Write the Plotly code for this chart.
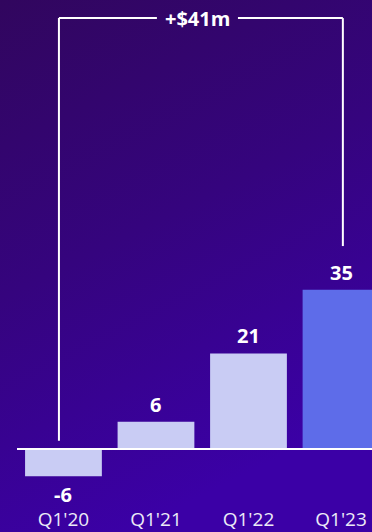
import base64
import plotly.graph_objects as go

categories = ["Q1'20", "Q1'21", "Q1'22", "Q1'23"]
values = [-6, 6, 21, 35]
value_labels = ["-6", "6", "21", "35"]
bar_colors = ["#c9ccf4", "#c9ccf4", "#c9ccf4", "#5e6ce9"]
change_label = "+$41m"

x_idx = list(range(len(categories)))

W, H, B = 372, 532, 26

svg = (
    '<svg xmlns="http://www.w3.org/2000/svg" width="372" height="532" preserveAspectRatio="none">'
    '<defs><linearGradient id="g" x1="0" y1="0" x2="0.35" y2="1">'
    '<stop offset="0" stop-color="#31065e"/>'
    '<stop offset="0.5" stop-color="#35047e"/>'
    '<stop offset="1" stop-color="#3b00a6"/>'
    '</linearGradient></defs>'
    '<rect width="372" height="532" fill="url(#g)"/></svg>'
)
bg_uri = "data:image/svg+xml;base64," + base64.b64encode(svg.encode()).decode()

fig = go.Figure()
fig.add_trace(go.Bar(
    x=x_idx, y=values, marker=dict(color=bar_colors, line=dict(width=0)),
    width=0.83, hoverinfo="skip", showlegend=False,
))

for xi, v, lab in zip(x_idx, values, value_labels):
    fig.add_annotation(
        x=xi, y=v, text=f"<b>{lab}</b>", showarrow=False,
        yanchor="bottom" if v >= 0 else "top",
        yshift=2 if v >= 0 else -3,
        font=dict(family="Open Sans", size=20, color="#ffffff"),
    )

# baseline
fig.add_shape(type="line", xref="paper", yref="y", x0=17 / W, x1=1, y0=0, y1=0,
              line=dict(color="#ffffff", width=2))

# bracket
top_y = 94.7
left_x = x_idx[0] - 0.049
right_x = x_idx[-1] + 0.02
gap_l, gap_r = 1.01, 1.886
fig.add_shape(type="line", x0=left_x, x1=left_x, y0=1.8, y1=top_y,
              line=dict(color="#ffffff", width=2))
fig.add_shape(type="line", x0=right_x, x1=right_x, y0=44.6, y1=top_y,
              line=dict(color="#ffffff", width=2))
fig.add_shape(type="line", x0=left_x, x1=gap_l, y0=top_y, y1=top_y,
              line=dict(color="#ffffff", width=2))
fig.add_shape(type="line", x0=gap_r, x1=right_x, y0=top_y, y1=top_y,
              line=dict(color="#ffffff", width=2))
fig.add_annotation(x=(gap_l + gap_r) / 2, y=top_y, text=f"<b>{change_label}</b>",
                   showarrow=False, yanchor="middle",
                   font=dict(family="Open Sans", size=20, color="#ffffff"))

fig.update_layout(
    width=W, height=H,
    margin=dict(l=0, r=0, t=0, b=B, autoexpand=False),
    paper_bgcolor="#3a01a0", plot_bgcolor="rgba(0,0,0,0)",
    images=[dict(source=bg_uri, xref="paper", yref="paper", x=0, y=1,
                 sizex=1, sizey=H / (H - B), xanchor="left", yanchor="top",
                 sizing="stretch", layer="below")],
    xaxis=dict(range=[-0.686, 3.335], tickmode="array", tickvals=x_idx,
               ticktext=categories, showgrid=False, zeroline=False,
               showline=False, ticks="", ticklen=0, automargin=False,
               tickfont=dict(family="Open Sans", size=19, color="#ecebf7")),
    yaxis=dict(range=[-12.53, 98.68], visible=False, showgrid=False,
               zeroline=False, automargin=False),
)

fig.write_html(
    "out.html",
    config={"displayModeBar": False},
    post_script="document.body.style.margin='0';document.body.style.overflow='hidden';",
)
